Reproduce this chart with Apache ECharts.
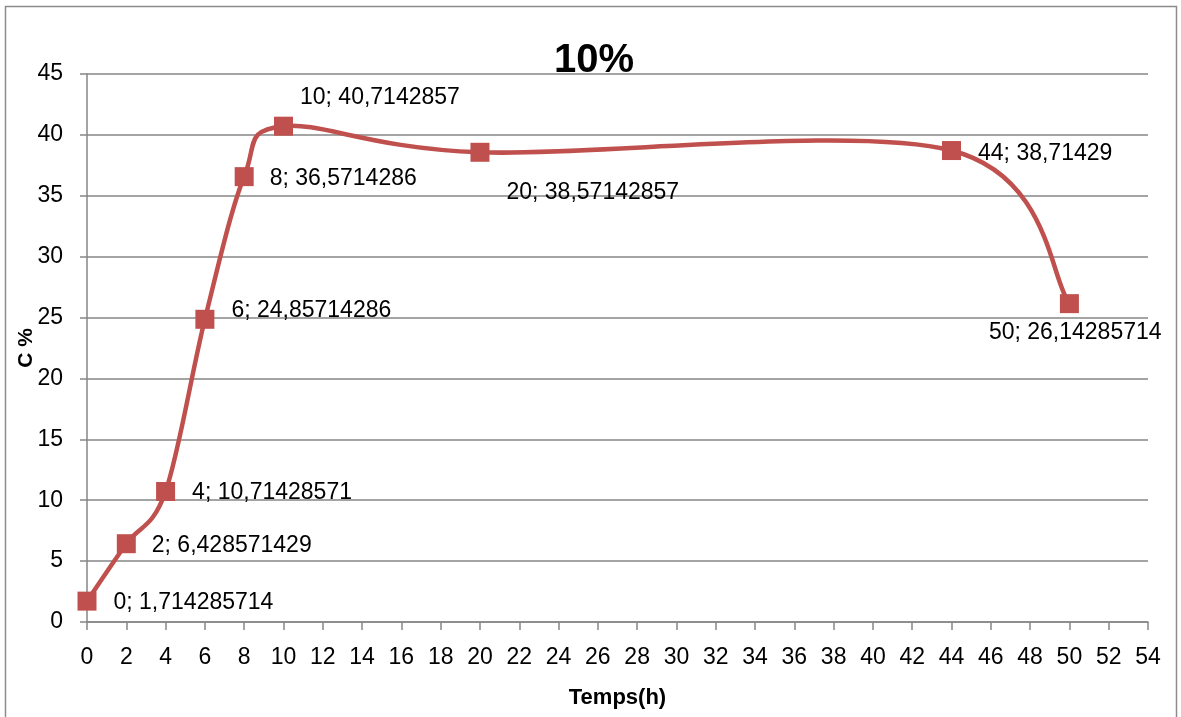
<!DOCTYPE html>
<html>
<head>
<meta charset="utf-8">
<script src="https://cdn.jsdelivr.net/npm/echarts@6/dist/echarts.min.js"></script>
<style>
  html, body { margin: 0; padding: 0; background: #fff; }
  #chart { width: 1181px; height: 717px; }
</style>
</head>
<body>
<div id="chart"></div>
<script>
// Sampling times (h) and measured concentration C %
const hours = [0, 2, 4, 6, 8, 10, 20, 44, 50];
const concentration = [1.714285714, 6.428571429, 10.71428571, 24.85714286, 36.5714286, 40.7142857, 38.57142857, 38.71429, 26.14285714];
// Where each point's label sits relative to its marker
const labelOffsets = [[17, 2], [16, 2], [17, 1], [17, -9], [16, 2], [7, -29], [17, 40], [17, 3], [-90, 29]];

const xTicks = { min: 0, max: 54, step: 2 };
const yTicks = { min: 0, max: 45, step: 5 };

const fmt = v => String(v).replace('.', ',');
const RED = '#C0504D';
const GRID = '#868686';
const FONT = 'Liberation Sans';

// Smoothed curve: one cubic Bezier per interval, tangents from neighbouring points
function renderSegment(params, api) {
  const i = params.dataIndex;
  const n = hours.length;
  if (i >= n - 1) return null;
  const P = j => {
    const c = Math.max(0, Math.min(n - 1, j));
    return api.coord([hours[c], concentration[c]]);
  };
  const p0 = P(i - 1), p1 = P(i), p2 = P(i + 1), p3 = P(i + 2);
  const k = 1 / 6;
  return {
    type: 'bezierCurve',
    shape: {
      x1: p1[0], y1: p1[1],
      x2: p2[0], y2: p2[1],
      cpx1: p1[0] + (p2[0] - p0[0]) * k, cpy1: p1[1] + (p2[1] - p0[1]) * k,
      cpx2: p2[0] - (p3[0] - p1[0]) * k, cpy2: p2[1] - (p3[1] - p1[1]) * k
    },
    style: { stroke: RED, lineWidth: 4.5, fill: null, lineCap: 'round' }
  };
}

const points = hours.map((h, i) => ({
  value: [h, concentration[i]],
  label: {
    show: true,
    position: 'right',
    offset: labelOffsets[i],
    distance: 0,
    formatter: () => fmt(h) + '; ' + fmt(concentration[i]),
    color: '#000',
    fontFamily: FONT,
    fontSize: 23
  }
}));

const chart = echarts.init(document.getElementById('chart'), null, { renderer: 'canvas' });
chart.setOption({
  animation: false,
  backgroundColor: '#fff',
  title: {
    text: '10%',
    left: 589,
    top: 36,
    textAlign: 'center',
    textStyle: { fontFamily: FONT, fontWeight: 'bold', fontSize: 40, color: '#000' }
  },
  graphic: [{
    type: 'rect',
    shape: { x: 5.5, y: 6.5, width: 1171, height: 720 },
    style: { fill: null, stroke: '#8c8c8c', lineWidth: 1.5 },
    silent: true,
    z: -1
  }],
  grid: { left: 87, right: 33, top: 74, bottom: 95, containLabel: false, outerBoundsMode: 'none' },
  xAxis: {
    type: 'value',
    min: xTicks.min, max: xTicks.max, interval: xTicks.step,
    name: 'Temps(h)',
    nameLocation: 'middle',
    nameGap: 65,
    nameMoveOverlap: false,
    nameTextStyle: { fontFamily: FONT, fontWeight: 'bold', fontSize: 22, color: '#000' },
    axisLine: { lineStyle: { color: GRID, width: 1.5 } },
    axisTick: { show: true, length: 8, lineStyle: { color: GRID, width: 1.5 } },
    axisLabel: { margin: 24, fontFamily: FONT, fontSize: 23, color: '#000' },
    splitLine: { show: false }
  },
  yAxis: {
    type: 'value',
    min: yTicks.min, max: yTicks.max, interval: yTicks.step,
    name: 'C %',
    nameLocation: 'middle',
    nameRotate: 90,
    nameGap: 50,
    nameMoveOverlap: false,
    nameTextStyle: { fontFamily: FONT, fontWeight: 'bold', fontSize: 21, color: '#000' },
    axisLine: { show: true, lineStyle: { color: GRID, width: 1.5 } },
    axisTick: { show: true, length: 7, lineStyle: { color: GRID, width: 1.5 } },
    axisLabel: { margin: 24, fontFamily: FONT, fontSize: 23, color: '#000' },
    splitLine: { show: true, lineStyle: { color: GRID, width: 1.5 } }
  },
  series: [{
    type: 'custom',
    data: hours.map((h, i) => [h, concentration[i]]),
    renderItem: renderSegment,
    clip: false,
    silent: true,
    z: 2
  }, {
    type: 'scatter',
    data: points,
    symbol: 'rect',
    symbolSize: 19,
    itemStyle: { color: RED, opacity: 1 },
    z: 3
  }]
});
</script>
</body>
</html>
